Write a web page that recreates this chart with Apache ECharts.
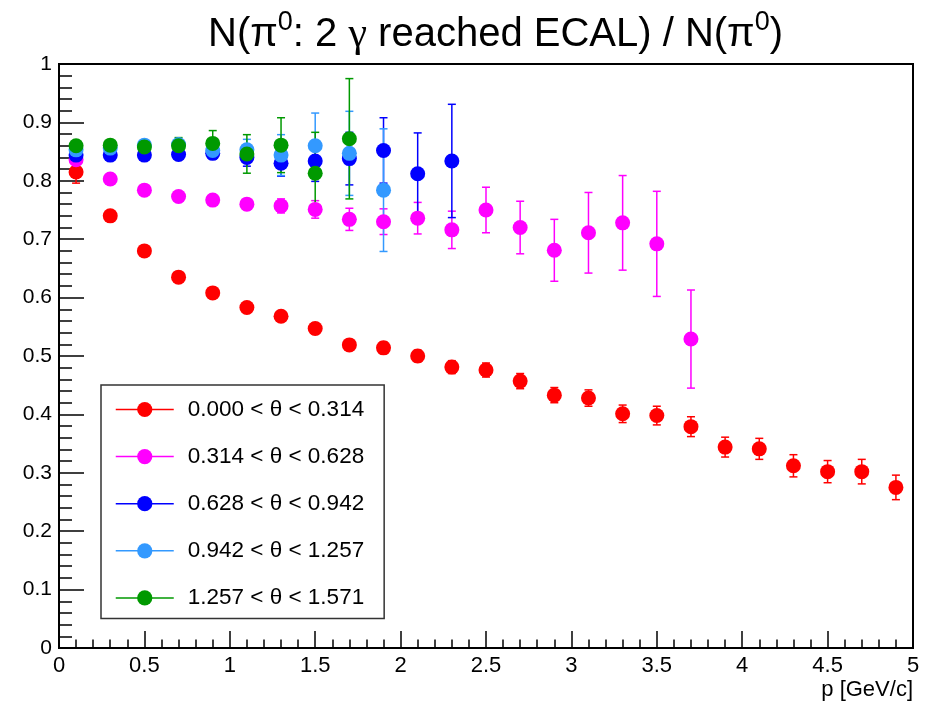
<!DOCTYPE html>
<html>
<head>
<meta charset="utf-8">
<script src="https://cdn.jsdelivr.net/npm/echarts@6/dist/echarts.min.js"></script>
<style>
  html, body { margin: 0; padding: 0; background: #fff; }
  #chart { width: 931px; height: 704px; }
</style>
</head>
<body>
<div id="chart"></div>
<script>
// Momentum bin centres (GeV/c)
const pBins = [0.1, 0.3, 0.5, 0.7, 0.9, 1.1, 1.3, 1.5, 1.7, 1.9, 2.1, 2.3, 2.5,
               2.7, 2.9, 3.1, 3.3, 3.5, 3.7, 3.9, 4.1, 4.3, 4.5, 4.7, 4.9];

// Theta ranges (legend entries)
const thetaNames = [
  '0.000 < θ < 0.314',
  '0.314 < θ < 0.628',
  '0.628 < θ < 0.942',
  '0.942 < θ < 1.257',
  '1.257 < θ < 1.571'
];

// Fraction of pi0 with both photons reaching ECAL, per theta range
const ratioTheta1 = [0.815, 0.740, 0.680, 0.635, 0.608, 0.583, 0.568, 0.547, 0.519, 0.514, 0.500, 0.481, 0.476,
                     0.457, 0.433, 0.428, 0.401, 0.398, 0.379, 0.344, 0.341, 0.312, 0.302, 0.302, 0.275];
const errTheta1   = [0.019, 0.004, 0.005, 0.006, 0.007, 0.007, 0.008, 0.009, 0.009, 0.010, 0.010, 0.011, 0.012,
                     0.013, 0.013, 0.014, 0.015, 0.016, 0.017, 0.017, 0.018, 0.019, 0.019, 0.021, 0.021];

const ratioTheta2 = [0.836, 0.803, 0.784, 0.773, 0.767, 0.760, 0.757, 0.751, 0.734, 0.730, 0.736, 0.716, 0.750,
                     0.720, 0.681, 0.711, 0.728, 0.692, 0.529];
const errTheta2   = [0.005, 0.005, 0.006, 0.007, 0.008, 0.009, 0.012, 0.015, 0.019, 0.022, 0.027, 0.032, 0.039,
                     0.045, 0.053, 0.069, 0.081, 0.090, 0.084];

const ratioTheta3 = [0.844, 0.844, 0.844, 0.845, 0.847, 0.840, 0.830, 0.834, 0.838, 0.852, 0.812, 0.834];
const errTheta3   = [0.004, 0.004, 0.005, 0.006, 0.010, 0.015, 0.022, 0.035, 0.045, 0.056, 0.070, 0.097];

const ratioTheta4 = [0.853, 0.856, 0.861, 0.862, 0.852, 0.853, 0.844, 0.860, 0.847, 0.784];
const errTheta4   = [0.004, 0.005, 0.006, 0.008, 0.012, 0.018, 0.035, 0.056, 0.072, 0.105];

const ratioTheta5 = [0.860, 0.861, 0.858, 0.860, 0.864, 0.846, 0.861, 0.813, 0.872];
const errTheta5   = [0.004, 0.005, 0.007, 0.014, 0.022, 0.033, 0.047, 0.070, 0.103];

const seriesValues = [ratioTheta1, ratioTheta2, ratioTheta3, ratioTheta4, ratioTheta5];
const seriesErrors = [errTheta1, errTheta2, errTheta3, errTheta4, errTheta5];
const seriesColors = ['#ff0000', '#ff00ff', '#0000ff', '#3399ff', '#009900'];

const FONT = 'Liberation Sans, Arial, Helvetica, sans-serif';
const GREEK = 'Liberation Serif, Times New Roman, serif';

const series = [];
seriesValues.forEach((vals, i) => {
  const color = seriesColors[i];
  const errData = vals.map((v, k) => [pBins[k], v, seriesErrors[i][k]]);
  // vertical error bars with end caps
  series.push({
    name: thetaNames[i] + ' err',
    type: 'custom',
    data: errData,
    encode: { x: 0, y: 1 },
    silent: true,
    renderItem: function (params, api) {
      const x = api.value(0), y = api.value(1), e = api.value(2);
      const top = api.coord([x, y + e]);
      const bot = api.coord([x, y - e]);
      const st = { stroke: color, lineWidth: 1.5 };
      return {
        type: 'group',
        children: [
          { type: 'line', shape: { x1: top[0], y1: top[1], x2: bot[0], y2: bot[1] }, style: st },
          { type: 'line', shape: { x1: top[0] - 4, y1: top[1], x2: top[0] + 4, y2: top[1] }, style: st },
          { type: 'line', shape: { x1: bot[0] - 4, y1: bot[1], x2: bot[0] + 4, y2: bot[1] }, style: st }
        ]
      };
    }
  });
  // markers
  series.push({
    name: thetaNames[i],
    type: 'line',
    data: vals.map((v, k) => [pBins[k], v]),
    symbol: 'circle',
    symbolSize: 15,
    showSymbol: true,
    itemStyle: { color: color },
    lineStyle: { width: 0, opacity: 0, color: color },
    animation: false
  });
});

const chart = echarts.init(document.getElementById('chart'));
chart.setOption({
  animation: false,
  backgroundColor: '#ffffff',
  title: {
    text: '{n|N(π}{s|0}{n|: 2 }{g|γ}{n| reached ECAL) / N(π}{s|0}{n|)}',
    left: 203,
    top: 4,
    textStyle: {
      rich: {
        n: { fontFamily: FONT, fontSize: 40, fontWeight: 'normal', color: '#000' },
        g: { fontFamily: GREEK, fontSize: 42, fontWeight: 'normal', color: '#000' },
        s: { fontFamily: FONT, fontSize: 27, fontWeight: 'normal', color: '#000', padding: [0, 0, 24, 0] }
      }
    }
  },
  grid: {
    left: 59, right: 18, top: 64, bottom: 56,
    show: true, borderColor: '#000', borderWidth: 2, backgroundColor: 'transparent'
  },
  legend: {
    data: thetaNames,
    orient: 'vertical',
    left: 101,
    top: 385,
    padding: [13, 20, 9, 14],
    itemWidth: 58,
    itemHeight: 19,
    itemGap: 24.1,
    borderColor: '#333',
    borderWidth: 1.5,
    backgroundColor: '#fff',
    lineStyle: { width: 1.5, opacity: 1 },
    textStyle: { fontFamily: FONT, fontSize: 22.5, color: '#000', lineHeight: 22, padding: [0, 0, 0, 9] },
    selectedMode: false
  },
  xAxis: {
    type: 'value',
    min: 0, max: 5, interval: 0.5,
    name: 'p [GeV/c]',
    nameLocation: 'end',
    nameGap: 0,
    nameTextStyle: { fontFamily: FONT, fontSize: 22, color: '#000', align: 'right', verticalAlign: 'top', padding: [31, 0, 0, 0] },
    axisLine: { show: true, lineStyle: { color: '#000', width: 2 } },
    axisTick: { show: true, inside: true, length: 17, lineStyle: { color: '#000', width: 1.5 } },
    minorTick: { show: true, splitNumber: 5, length: 8.5, lineStyle: { color: '#000', width: 1.5 } },
    splitLine: { show: false },
    axisLabel: { fontFamily: FONT, fontSize: 22, color: '#000', margin: 7 }
  },
  yAxis: {
    type: 'value',
    min: 0, max: 1, interval: 0.1,
    axisLine: { show: true, lineStyle: { color: '#000', width: 2 } },
    axisTick: { show: true, inside: true, length: 25, lineStyle: { color: '#000', width: 1.5 } },
    minorTick: { show: true, splitNumber: 5, length: 13, lineStyle: { color: '#000', width: 1.5 } },
    splitLine: { show: false },
    axisLabel: { fontFamily: FONT, fontSize: 21, color: '#000', margin: 7 }
  },
  series: series
});
</script>
</body>
</html>
